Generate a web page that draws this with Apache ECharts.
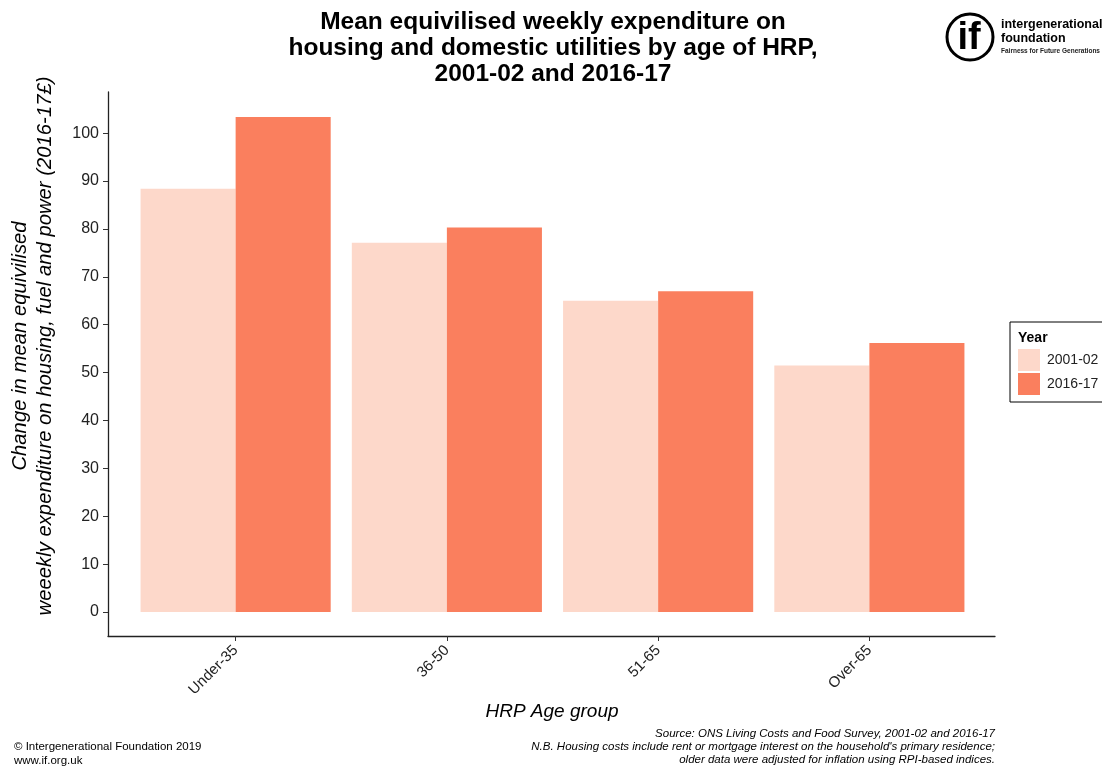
<!DOCTYPE html>
<html>
<head>
<meta charset="utf-8">
<script src="https://cdn.jsdelivr.net/npm/echarts@6/dist/echarts.min.js"></script>
<style>
  html, body { margin: 0; padding: 0; background: #fff; }
  #chart { width: 1102px; height: 767px; }
</style>
</head>
<body>
<div id="chart"></div>
<script>
// Age groups of the household reference person (HRP)
const ageGroups = ['Under-35', '36-50', '51-65', 'Over-65'];
// Mean equivilised weekly expenditure (2016-17 £)
const spend2001 = [88.4, 77.1, 65.0, 51.5];
const spend2016 = [103.4, 80.3, 67.0, 56.2];
const seriesNames = ['2001-02', '2016-17'];
const yTicks = [0, 10, 20, 30, 40, 50, 60, 70, 80, 90, 100];

const colorOld = '#FDD8CA';
const colorNew = '#FA7F5E';
const font = 'Liberation Sans, Arial, sans-serif';

// y range padded like ggplot's default expansion
const yMin = -5.0, yMax = 108.6;

const chart = echarts.init(document.getElementById('chart'), null, { renderer: 'canvas' });

const option = {
  backgroundColor: '#fff',
  animation: false,
  textStyle: { fontFamily: font },
  title: {
    text: 'Mean equivilised weekly expenditure on\nhousing and domestic utilities by age of HRP,\n2001-02 and 2016-17',
    left: 548, top: 4, textAlign: 'center',
    textStyle: { fontSize: 24.5, fontWeight: 'bold', color: '#000', lineHeight: 26, fontFamily: font }
  },
  legend: {
    data: seriesNames,
    orient: 'vertical',
    left: 1010, top: 322,
    padding: [27, 24, 7, 8],
    itemWidth: 22, itemHeight: 22, itemGap: 2,
    icon: 'rect',
    borderColor: '#000', borderWidth: 1,
    textStyle: { fontSize: 14, color: '#222', fontFamily: font, padding: [0, 0, 0, 2] }
  },
  grid: [
    // bars: band area inset by ggplot's 0.6-category expansion
    { left: 130, width: 845, top: 92, height: 544 },
    // frame: full axis lines
    { left: 108, width: 887, top: 92, height: 544 }
  ],
  xAxis: [
    {
      type: 'category', gridIndex: 0, data: ageGroups,
      axisLine: { show: false, onZero: false },
      axisTick: { show: true, alignWithLabel: true, length: 5, lineStyle: { color: '#333', width: 1 } },
      axisLabel: { rotate: 45, fontSize: 15, color: '#222', margin: 12, fontFamily: font }
    },
    {
      type: 'value', gridIndex: 1, min: 0, max: 1,
      axisLine: { show: true, onZero: false, lineStyle: { color: '#222', width: 1.3 } },
      axisTick: { show: false }, axisLabel: { show: false }, splitLine: { show: false }
    }
  ],
  yAxis: [
    {
      type: 'value', gridIndex: 0, min: yMin, max: yMax,
      show: false, splitLine: { show: false }
    },
    {
      type: 'value', gridIndex: 1, min: yMin, max: yMax,
      axisLine: { show: true, onZero: false, lineStyle: { color: '#222', width: 1.3 } },
      axisTick: { show: true, length: 5, customValues: yTicks, lineStyle: { color: '#333', width: 1 } },
      axisLabel: { customValues: yTicks, fontSize: 16, color: '#222', margin: 9, fontFamily: font },
      splitLine: { show: false }
    }
  ],
  series: [
    {
      name: seriesNames[0], type: 'bar', xAxisIndex: 0, yAxisIndex: 0,
      data: spend2001, barGap: '0%', barCategoryGap: '10%',
      itemStyle: { color: colorOld }
    },
    {
      name: seriesNames[1], type: 'bar', xAxisIndex: 0, yAxisIndex: 0,
      data: spend2016, barGap: '0%', barCategoryGap: '10%',
      itemStyle: { color: colorNew }
    }
  ],
  graphic: [
    // y axis title
    {
      type: 'text', x: 33, y: 346, rotation: Math.PI / 2,
      style: {
        text: 'Change in mean equivilised\nweeekly expenditure on housing, fuel and power (2016-17£)',
        font: 'italic 20.3px ' + font, fill: '#000',
        textAlign: 'center', textVerticalAlign: 'middle', lineHeight: 25
      }
    },
    // x axis title
    {
      type: 'text', x: 552, y: 712,
      style: { text: 'HRP Age group', font: 'italic 19px ' + font, fill: '#000', textAlign: 'center', textVerticalAlign: 'middle' }
    },
    // legend heading
    { type: 'text', x: 1018, y: 331, style: { text: 'Year', font: 'bold 14px ' + font, fill: '#000' } },
    // logo mark
    { type: 'circle', shape: { cx: 970, cy: 37, r: 23 }, style: { fill: '#fff', stroke: '#000', lineWidth: 3 } },
    {
      type: 'text', x: 969, y: 39,
      style: { text: 'if', font: 'bold 38px ' + font, fill: '#000', textAlign: 'center', textVerticalAlign: 'middle' }
    },
    { type: 'text', x: 1001, y: 18, style: { text: 'intergenerational', font: 'bold 12.5px ' + font, fill: '#000' } },
    { type: 'text', x: 1001, y: 32, style: { text: 'foundation', font: 'bold 12.5px ' + font, fill: '#000' } },
    { type: 'text', x: 1001, y: 48, style: { text: 'Fairness for Future Generations', font: 'bold 6.5px ' + font, fill: '#222' } },
    // footer
    {
      type: 'text', x: 14, y: 740,
      style: { text: '© Intergenerational Foundation 2019\nwww.if.org.uk', font: '11.5px ' + font, fill: '#000', lineHeight: 14 }
    },
    {
      type: 'text', x: 995, y: 727,
      style: {
        text: 'Source: ONS Living Costs and Food Survey, 2001-02 and 2016-17\nN.B. Housing costs include rent or mortgage interest on the household\'s primary residence;\nolder data were adjusted for inflation using RPI-based indices.',
        font: 'italic 11.5px ' + font, fill: '#000', textAlign: 'right', lineHeight: 13
      }
    }
  ]
};

chart.setOption(option);
</script>
</body>
</html>
